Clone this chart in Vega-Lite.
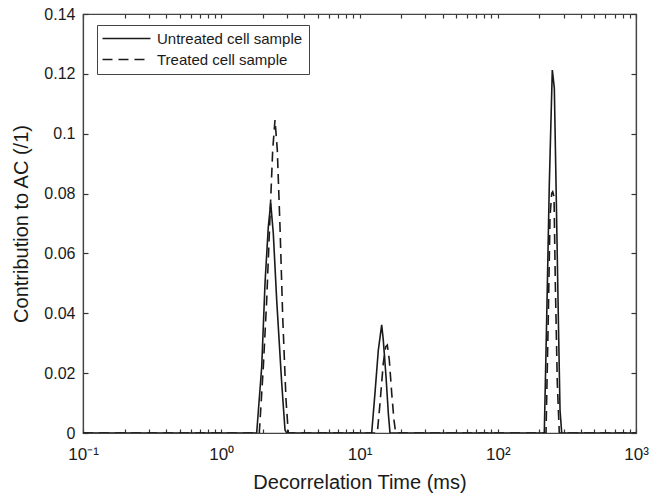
{
  "$schema": "https://vega.github.io/schema/vega-lite/v6.json",
  "autosize": "none",
  "width": 553,
  "height": 419,
  "padding": {"left": 83, "top": 14, "right": 25, "bottom": 62},
  "background": "white",
  "config": {
    "font": "Liberation Sans",
    "view": {"stroke": "#444444", "strokeWidth": 1.2},
    "axis": {"grid": false, "domainColor": "#444444", "domainWidth": 1.2, "tickColor": "#333333", "tickWidth": 1.2, "labelColor": "#1a1a1a", "titleColor": "#1a1a1a", "labelFont": "Liberation Sans", "titleFont": "Liberation Sans", "titleFontWeight": "normal"}
  },
  "data": {"values": [
    {"t": 0.1, "c": 0, "s": "Untreated cell sample"},
    {"t": 1.804, "c": 0, "s": "Untreated cell sample"},
    {"t": 1.962, "c": 0.0221, "s": "Untreated cell sample"},
    {"t": 2.073, "c": 0.0501, "s": "Untreated cell sample"},
    {"t": 2.189, "c": 0.0688, "s": "Untreated cell sample"},
    {"t": 2.279, "c": 0.0768, "s": "Untreated cell sample"},
    {"t": 2.379, "c": 0.0668, "s": "Untreated cell sample"},
    {"t": 2.518, "c": 0.0444, "s": "Untreated cell sample"},
    {"t": 2.737, "c": 0.0167, "s": "Untreated cell sample"},
    {"t": 2.892, "c": 0.001, "s": "Untreated cell sample"},
    {"t": 2.975, "c": 0, "s": "Untreated cell sample"},
    {"t": 12.25, "c": 0, "s": "Untreated cell sample"},
    {"t": 12.94, "c": 0.0133, "s": "Untreated cell sample"},
    {"t": 13.68, "c": 0.0277, "s": "Untreated cell sample"},
    {"t": 14.47, "c": 0.0361, "s": "Untreated cell sample"},
    {"t": 14.86, "c": 0.0311, "s": "Untreated cell sample"},
    {"t": 15.55, "c": 0.0189, "s": "Untreated cell sample"},
    {"t": 16.16, "c": 0.0066, "s": "Untreated cell sample"},
    {"t": 16.62, "c": 0, "s": "Untreated cell sample"},
    {"t": 217.1, "c": 0, "s": "Untreated cell sample"},
    {"t": 226.1, "c": 0.0389, "s": "Untreated cell sample"},
    {"t": 236.1, "c": 0.0834, "s": "Untreated cell sample"},
    {"t": 248.1, "c": 0.1213, "s": "Untreated cell sample"},
    {"t": 256.6, "c": 0.1152, "s": "Untreated cell sample"},
    {"t": 263.9, "c": 0.0835, "s": "Untreated cell sample"},
    {"t": 274.2, "c": 0.0389, "s": "Untreated cell sample"},
    {"t": 282.1, "c": 0.0077, "s": "Untreated cell sample"},
    {"t": 290.2, "c": 0, "s": "Untreated cell sample"},
    {"t": 1000, "c": 0, "s": "Untreated cell sample"},
    {"t": 0.1, "c": 0, "s": "Treated cell sample"},
    {"t": 1.884, "c": 0, "s": "Treated cell sample"},
    {"t": 2.015, "c": 0.0221, "s": "Treated cell sample"},
    {"t": 2.132, "c": 0.0444, "s": "Treated cell sample"},
    {"t": 2.252, "c": 0.0722, "s": "Treated cell sample"},
    {"t": 2.356, "c": 0.0946, "s": "Treated cell sample"},
    {"t": 2.448, "c": 0.1046, "s": "Treated cell sample"},
    {"t": 2.543, "c": 0.0946, "s": "Treated cell sample"},
    {"t": 2.661, "c": 0.0688, "s": "Treated cell sample"},
    {"t": 2.783, "c": 0.0388, "s": "Treated cell sample"},
    {"t": 2.941, "c": 0.011, "s": "Treated cell sample"},
    {"t": 3.055, "c": 0, "s": "Treated cell sample"},
    {"t": 13.45, "c": 0, "s": "Treated cell sample"},
    {"t": 14.07, "c": 0.0099, "s": "Treated cell sample"},
    {"t": 14.86, "c": 0.0233, "s": "Treated cell sample"},
    {"t": 15.47, "c": 0.0288, "s": "Treated cell sample"},
    {"t": 15.89, "c": 0.0294, "s": "Treated cell sample"},
    {"t": 16.43, "c": 0.0244, "s": "Treated cell sample"},
    {"t": 17.10, "c": 0.0133, "s": "Treated cell sample"},
    {"t": 17.76, "c": 0.0043, "s": "Treated cell sample"},
    {"t": 18.27, "c": 0, "s": "Treated cell sample"},
    {"t": 223.4, "c": 0, "s": "Treated cell sample"},
    {"t": 232.1, "c": 0.0389, "s": "Treated cell sample"},
    {"t": 238.8, "c": 0.0723, "s": "Treated cell sample"},
    {"t": 245.7, "c": 0.0801, "s": "Treated cell sample"},
    {"t": 249.8, "c": 0.0806, "s": "Treated cell sample"},
    {"t": 255.3, "c": 0.079, "s": "Treated cell sample"},
    {"t": 260.9, "c": 0.05, "s": "Treated cell sample"},
    {"t": 269.7, "c": 0.0166, "s": "Treated cell sample"},
    {"t": 278.7, "c": 0, "s": "Treated cell sample"},
    {"t": 1000, "c": 0, "s": "Treated cell sample"}
  ]},
  "layer": [
    {
      "mark": {"type": "line", "color": "#1a1a1a", "strokeWidth": 1.6, "clip": true},
      "encoding": {
        "x": {"field": "t", "type": "quantitative",
          "scale": {"type": "log", "domain": [0.1, 1000], "nice": false},
          "axis": {"orient": "bottom", "title": "Decorrelation Time (ms)", "titleFontSize": 20, "titlePadding": 10,
            "values": [0.1,0.2,0.3,0.4,0.5,0.6,0.7,0.8,0.9,1,2,3,4,5,6,7,8,9,10,20,30,40,50,60,70,80,90,100,200,300,400,500,600,700,800,900,1000],
            "labelExpr": "datum.value == 0.1 ? '10⁻¹' : datum.value == 1 ? '10⁰' : datum.value == 10 ? '10¹' : datum.value == 100 ? '10²' : datum.value == 1000 ? '10³' : ''",
            "labelFontSize": 17, "tickSize": -4, "labelPadding": 17, "labelFlush": false, "labelOverlap": false}},
        "y": {"field": "c", "type": "quantitative",
          "scale": {"domain": [0, 0.14], "nice": false},
          "axis": {"orient": "left", "title": "Contribution to AC (/1)", "titleFontSize": 20, "titlePadding": 12,
            "values": [0, 0.02, 0.04, 0.06, 0.08, 0.1, 0.12, 0.14], "format": ".2~f",
            "labelFontSize": 16, "tickSize": -5, "labelPadding": 13, "labelFlush": false, "labelOverlap": false}},
        "strokeDash": {"field": "s", "type": "nominal",
          "scale": {"domain": ["Untreated cell sample", "Treated cell sample"], "range": [[1, 0], [10, 6]]},
          "legend": {"title": null, "orient": "none", "legendX": 14, "legendY": 11,
            "symbolType": "M-4,0H4", "symbolSize": 144, "symbolStrokeWidth": 1.5, "symbolStrokeColor": "#1a1a1a",
            "symbolOffset": 16, "labelOffset": 23, "labelFontSize": 15, "labelColor": "#1a1a1a", "labelFont": "Liberation Sans",
            "padding": 6, "rowPadding": 5, "strokeColor": "#444444", "fillColor": "white", "labelLimit": 300}}
      }
    },
    {
      "mark": {"type": "line", "opacity": 0},
      "encoding": {
        "x": {"field": "t", "type": "quantitative",
          "scale": {"type": "log", "domain": [0.1, 1000], "nice": false},
          "axis": {"orient": "top", "title": null, "labels": false, "tickSize": -4,
            "values": [0.1,0.2,0.3,0.4,0.5,0.6,0.7,0.8,0.9,1,2,3,4,5,6,7,8,9,10,20,30,40,50,60,70,80,90,100,200,300,400,500,600,700,800,900,1000]}},
        "y": {"field": "c", "type": "quantitative",
          "scale": {"domain": [0, 0.14], "nice": false},
          "axis": {"orient": "right", "title": null, "labels": false, "tickSize": -5,
            "values": [0, 0.02, 0.04, 0.06, 0.08, 0.1, 0.12, 0.14]}}
      }
    }
  ],
  "resolve": {"axis": {"x": "independent", "y": "independent"}}
}
